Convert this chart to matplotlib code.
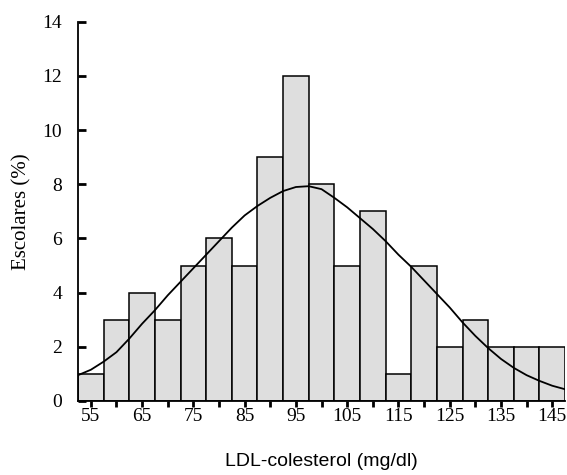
import matplotlib.pyplot as plt
import numpy as np

# histogram: LDL-colesterol classes (centres, width 5) and % of escolares
centros = [55, 60, 65, 70, 75, 80, 85, 90, 95, 100, 105, 110, 115, 120, 125, 130, 135, 140, 145]
escolares = [1, 3, 4, 3, 5, 6, 5, 9, 12, 8, 5, 7, 1, 5, 2, 3, 2, 2, 2]

# fitted curve, every 2.5 mg/dl
curva_x = [52.5, 55, 57.5, 60, 62.5, 65, 67.5, 70, 72.5, 75, 77.5, 80, 82.5, 85, 87.5, 90,
           92.5, 95, 97.5, 100, 102.5, 105, 107.5, 110, 112.5, 115, 117.5, 120, 122.5, 125,
           127.5, 130, 132.5, 135, 137.5, 140, 142.5, 145, 147.5]
curva_y = [0.95, 1.15, 1.45, 1.8, 2.3, 2.85, 3.35, 3.9, 4.4, 4.9, 5.4, 5.9, 6.4, 6.85, 7.2, 7.5,
           7.75, 7.9, 7.93, 7.82, 7.5, 7.15, 6.75, 6.35, 5.9, 5.4, 4.95, 4.45, 3.95, 3.45,
           2.9, 2.4, 1.95, 1.55, 1.22, 0.95, 0.74, 0.56, 0.43]

tick_labels = [55, 65, 75, 85, 95, 105, 115, 125, 135, 145]

fig = plt.figure(figsize=(5.67, 4.75), dpi=100)
ax = fig.add_axes([0.1376, 0.156, 0.859, 0.798])

ax.bar(centros, escolares, width=5, color="#dedede", edgecolor="black", linewidth=1.1, zorder=2)
ax.plot(curva_x, curva_y, color="black", linewidth=1.3, zorder=3)

ax.set_xlim(52.5, 147.5)
ax.set_ylim(0, 14)
ax.spines["top"].set_visible(False)
ax.spines["right"].set_visible(False)
ax.spines["left"].set_linewidth(1.3)
ax.spines["bottom"].set_linewidth(1.3)

ax.set_xticks(tick_labels)
ax.set_xticklabels([str(t) for t in tick_labels])
ax.set_xticks([c for c in centros if c not in tick_labels], minor=True)
ax.set_yticks(range(0, 15, 2))

ax.tick_params(axis="x", which="both", direction="out", length=4, width=2, pad=1)
ax.tick_params(axis="y", direction="in", length=6, width=2, pad=11.5)
for lab in ax.get_xticklabels() + ax.get_yticklabels():
    lab.set_fontfamily("Liberation Serif")
    lab.set_fontsize(14)

ax.set_ylabel("Escolares (%)", fontfamily="Liberation Serif", fontsize=15, labelpad=7.5)
ax.set_xlabel("LDL-colesterol (mg/dl)", fontfamily="Liberation Sans", fontsize=14, labelpad=20)

fig.savefig("out.png", dpi=100)
